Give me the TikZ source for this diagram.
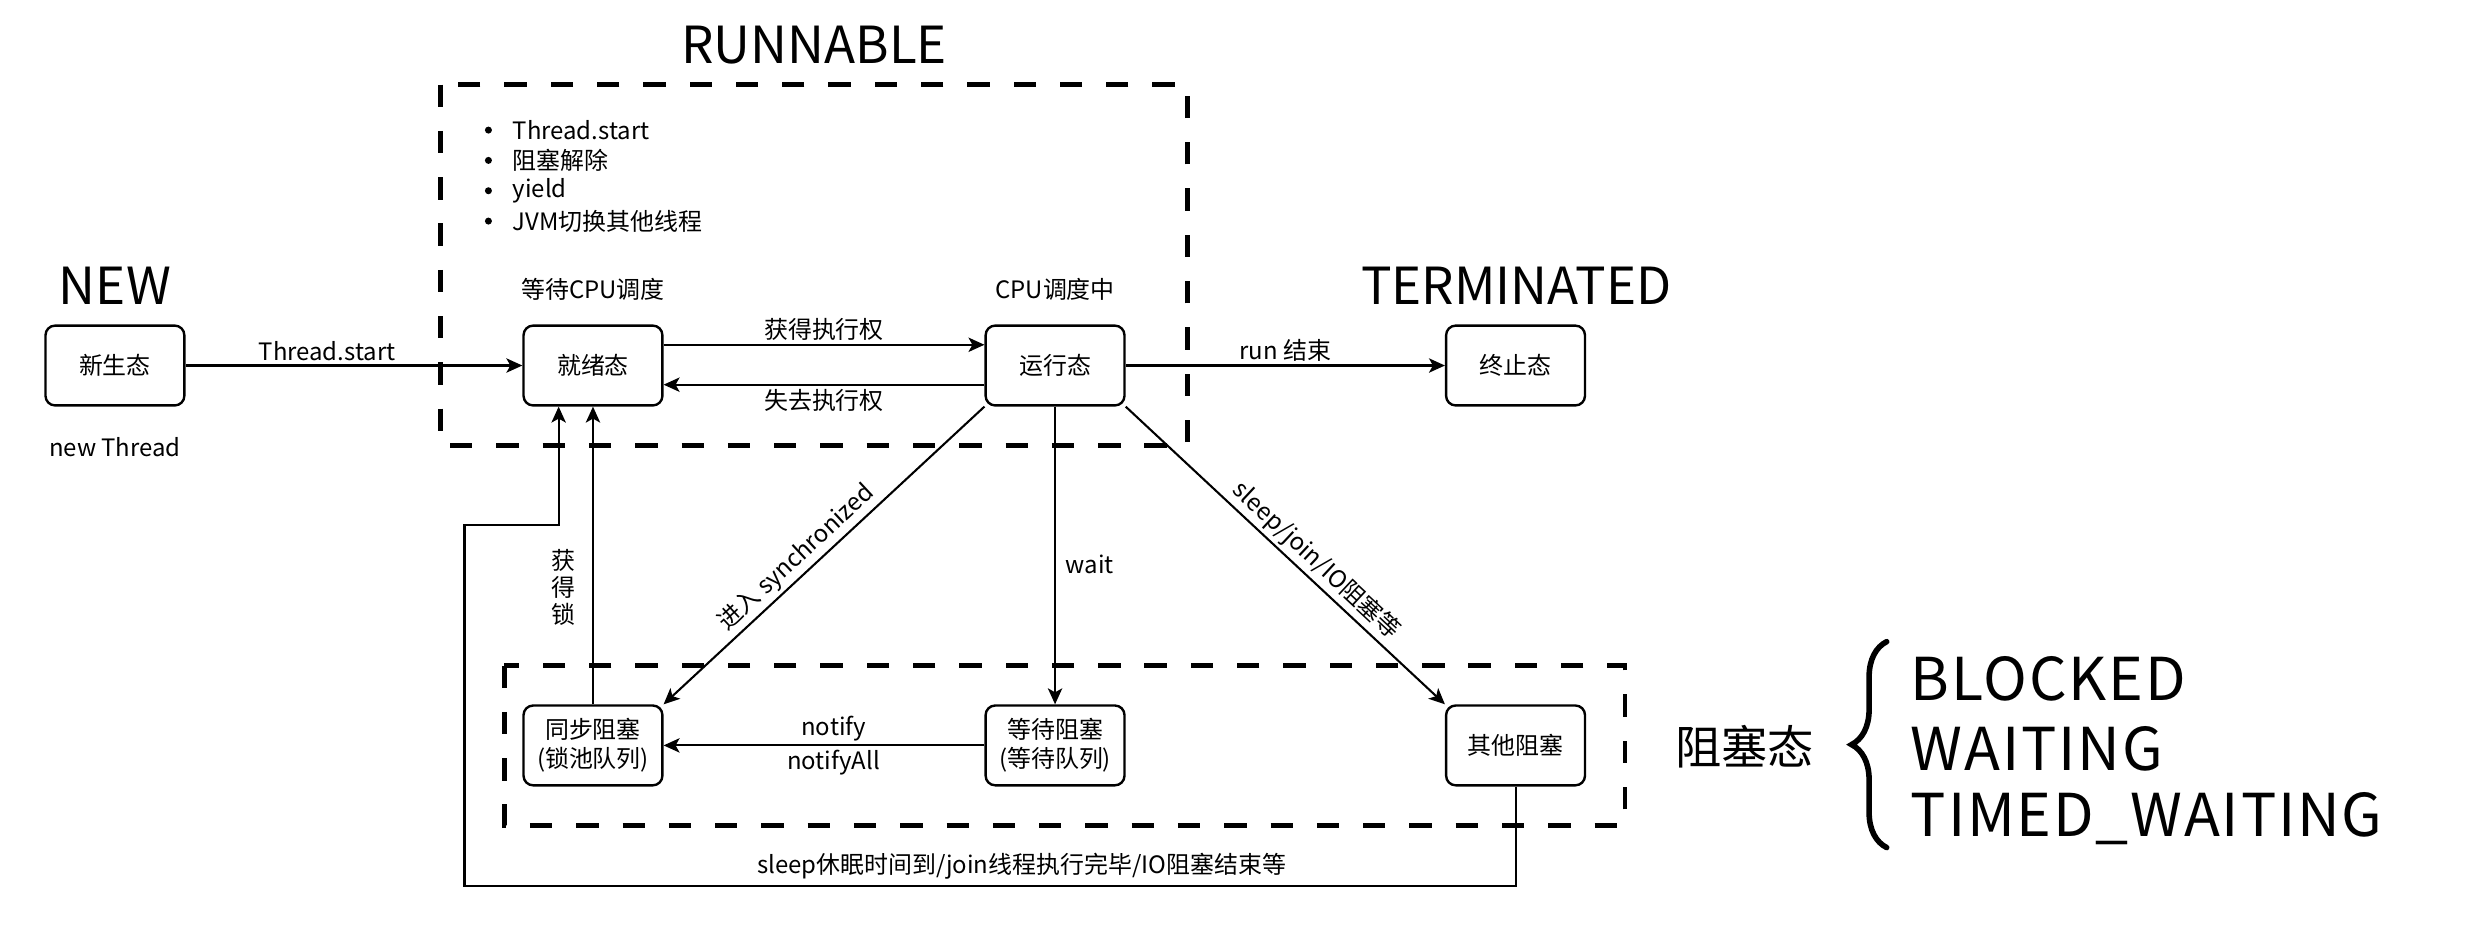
\documentclass[tikz,border=0pt]{standalone}
\usepackage{fontspec}
\setmainfont{Noto Sans CJK SC}
\usetikzlibrary{positioning, arrows.meta, decorations.pathreplacing}
\tikzstyle{canvas} = [x = 1pt, y = -1pt]
\tikzstyle{stateStyle} = [draw=black, fill=white, rounded corners = 6pt, line width = 1.5pt, minimum width = 87pt, minimum height = 50pt, inner sep = 0pt, align = center, font = \fontsize{15}{18}\selectfont]
\tikzstyle{transition} = [line width = 1.3pt, -{Stealth[length = 10pt, width = 9pt, inset = 2.5pt]}]
\tikzstyle{groupLine} = [line width = 3pt, dash pattern = on 14pt off 15pt]
\tikzstyle{edgeText} = [font = \fontsize{15}{17}\selectfont, inner sep = 2pt]
\tikzstyle{titleText} = [font = \fontsize{32}{36}\selectfont]
\tikzstyle{javaStateText} = [font = \fontsize{37}{40}\selectfont, anchor = west, inner sep = 2pt]
\tikzstyle{braceLine} = [decorate, decoration = {brace, amplitude = 22pt}, line width = 3.5pt, line cap = round]
\newcommand{\stateBox}[4]{\node [stateStyle] (#1) at (#2, #3) {#4};}

\begin{document}
\begin{tikzpicture}[canvas]
  \useasboundingbox (0,0) rectangle (1560,594);
  % dashed groups
  \draw [groupLine] (276,53) rectangle (744,279);
  \draw [groupLine] (316,417) rectangle (1018,517);

  \node [titleText] (runnableTitle) at (510,28) {RUNNABLE};
  \node [titleText] (newTitle) at (72,179) {NEW};
  \node [titleText] (terminatedTitle) at (950,179) {TERMINATED};

  \foreach \entry [count=\i] in {Thread.start, 阻塞解除, yield, JVM切换其他线程} {
    \fill (306, 62.5 + 19*\i) circle (2.2pt);
    \node [edgeText, anchor = west] (bullet\i) at (319, 62.5 + 19*\i) {\entry};
  }

  \stateBox{newState}{72}{229}{新生态}
  \stateBox{ready}{371.5}{229}{就绪态}
  \stateBox{running}{661}{229}{运行态}
  \stateBox{terminated}{949.5}{229}{终止态}
  \stateBox{syncBlock}{371.5}{467}{同步阻塞\\(锁池队列)}
  \stateBox{waitBlock}{661}{467}{等待阻塞\\(等待队列)}
  \stateBox{otherBlock}{949.5}{467}{其他阻塞}

  \node [edgeText] (newNote) at (72,280) {new Thread};
  \node [edgeText, above = 13pt of ready] (readyNote) {等待CPU调度};
  \node [edgeText, above = 13pt of running] (runningNote) {CPU调度中};

  % transitions
  \draw [transition] (newState) -- node [edgeText, above, pos = 0.42] {Thread.start} (ready);
  \draw [transition] ([yshift = 13pt]ready.east) -- node [edgeText, above] {获得执行权} ([yshift = 13pt]running.west);
  \draw [transition] ([yshift = -12pt]running.west) -- node [edgeText, below] {失去执行权} ([yshift = -12pt]ready.east);
  \draw [transition] (running) -- node [edgeText, above] {run 结束} (terminated);
  \draw [transition] (running.south west) -- node [edgeText, above, sloped, pos = 0.55] {进入 synchronized} (syncBlock.north east);
  \draw [transition] (running) -- node [edgeText, right, pos = 0.53, xshift = 4pt] {wait} (waitBlock);
  \draw [transition] (running.south east) -- node [edgeText, above, sloped, pos = 0.56] {sleep/join/IO阻塞等} (otherBlock.north west);
  \draw [transition] (waitBlock) -- node [edgeText, above, xshift = 6pt] {notify} node [edgeText, below, xshift = 6pt] {notifyAll} (syncBlock);
  \draw [transition] (syncBlock) -- (ready);
  \node [edgeText, align = center] (lockNote) at (353,368) {获\\得\\锁};

  \coordinate (loopCorner) at (291,555);
  \coordinate (loopStep) at (350,329);
  \draw [transition] (otherBlock.south) |- (loopCorner) |- (loopStep) -- (loopStep |- ready.south);
  \node [edgeText] (loopNote) at (640,543) {sleep休眠时间到/join线程执行完毕/IO阻塞结束等};

  % blocked states
  \node [font = \fontsize{29}{32}\selectfont] (blockedTitle) at (1093,468) {阻塞态};
  \draw [braceLine] (1182,531) -- (1182,402);
  \foreach \javaName [count=\i] in {BLOCKED, WAITING, TIMED\_WAITING} {
    \node [javaStateText] (javaState\i) at (1195, 381 + 44*\i) {\addfontfeature{LetterSpace = 3}\javaName};
  }
\end{tikzpicture}
\end{document}
